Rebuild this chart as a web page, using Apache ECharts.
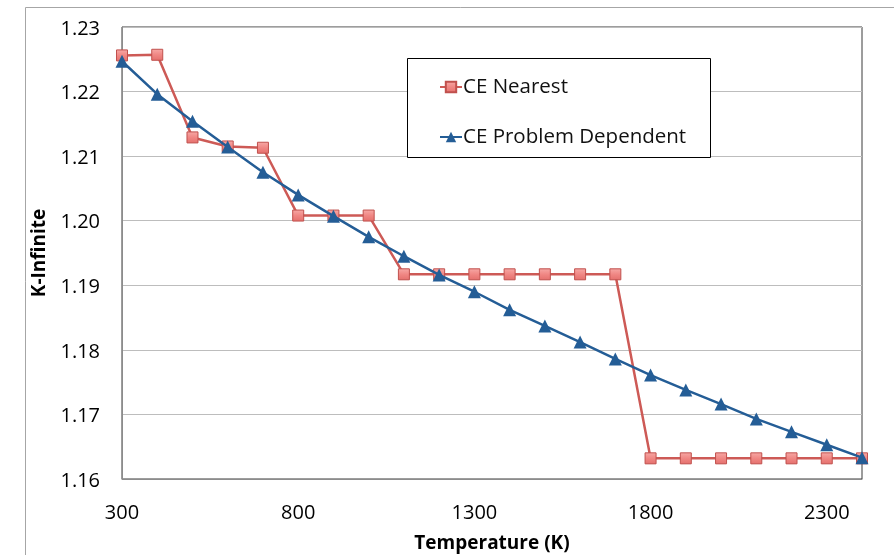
<!DOCTYPE html>
<html><head><meta charset="utf-8">
<script src="https://cdn.jsdelivr.net/npm/echarts@6/dist/echarts.min.js"></script>
<style>html,body{margin:0;padding:0;background:#fff}#c{width:894px;height:555px}</style>
</head><body><div id="c"></div>
<script>
const temperatures = [300,400,500,600,700,800,900,1000,1100,1200,1300,1400,1500,1600,1700,1800,1900,2000,2100,2200,2300,2400];
const ceNearest = [1.2256,1.2257,1.2129,1.2115,1.2113,1.2008,1.2008,1.2008,1.1917,1.1917,1.1917,1.1917,1.1917,1.1917,1.1917,1.1632,1.1632,1.1632,1.1632,1.1632,1.1632,1.1632];
const ceProblemDependent = [1.2247,1.2196,1.2154,1.2114,1.2075,1.2040,1.2007,1.1975,1.1945,1.1916,1.1890,1.1862,1.1837,1.1812,1.1786,1.1761,1.1738,1.1716,1.1693,1.1673,1.1653,1.1633];
const seriesNames = ['CE Nearest','CE Problem Dependent'];
const xTitle = 'Temperature (K)';
const yTitle = 'K-Infinite';

const font = '"Open Sans", "Liberation Sans", Arial, sans-serif';
const chart = echarts.init(document.getElementById('c'), null, {renderer:'canvas'});
const redFill = new echarts.graphic.LinearGradient(0,0,0,1,[{offset:0,color:'#f7aaa7'},{offset:0.5,color:'#f08784'},{offset:1,color:'#e46f6c'}]);
chart.setOption({
  animation:false,
  backgroundColor:'#fff',
  graphic:[
    {type:'rect', shape:{x:25.5,y:7.5,width:900,height:600}, style:{fill:'none',stroke:'#a6a6a6',lineWidth:1}, z:-10},
    {type:'rect', shape:{x:407.5,y:58.5,width:303,height:99}, style:{fill:'#fff',stroke:'#000',lineWidth:1}, z:50}
  ],
  grid:{left:122,top:27,right:32,bottom:76,containLabel:false,outerBoundsMode:'none',show:true,borderColor:'#3a3a3a',borderWidth:1,backgroundColor:'transparent'},
  legend:{
    orient:'vertical', left:434, top:70, itemWidth:22, itemHeight:13, itemGap:26, z:60,
    data:seriesNames,
    textStyle:{fontFamily:font,fontSize:20.5,color:'#111',lineHeight:24,padding:[0,0,0,-4]}
  },
  xAxis:{
    type:'value', min:300, max:2400, interval:500,
    name:xTitle, nameLocation:'middle', nameGap:55,
    nameTextStyle:{fontFamily:font,fontSize:19,fontWeight:'bold',color:'#000'},
    axisLine:{show:true,lineStyle:{color:'#8c8c8c',width:1}},
    axisTick:{show:false},
    axisLabel:{fontFamily:font,fontSize:20,color:'#000',margin:24,showMaxLabel:false,formatter:v=>String(v)},
    splitLine:{show:false}
  },
  yAxis:{
    type:'value', min:1.16, max:1.23, interval:0.01,
    name:yTitle, nameLocation:'middle', nameGap:71, nameRotate:90,
    nameTextStyle:{fontFamily:font,fontSize:19,fontWeight:'bold',color:'#000'},
    axisLine:{show:true,lineStyle:{color:'#8c8c8c',width:1}},
    axisTick:{show:false},
    axisLabel:{fontFamily:font,fontSize:20,color:'#000',margin:22,verticalAlign:'top',padding:[-8,0,0,0],formatter:v=>v.toFixed(2)},
    splitLine:{show:true,lineStyle:{color:'#bdbdbd',width:1}}
  },
  series:[
    {name:seriesNames[0], type:'line', data:temperatures.map((t,i)=>[t,ceNearest[i]]),
     symbol:'rect', symbolSize:11, showAllSymbol:true,
     lineStyle:{color:'#cd5a56',width:2.5},
     itemStyle:{color:redFill,borderColor:'#c0504d',borderWidth:1}, z:3},
    {name:seriesNames[1], type:'line', data:temperatures.map((t,i)=>[t,ceProblemDependent[i]]),
     symbol:'triangle', symbolSize:13, showAllSymbol:true,
     lineStyle:{color:'#245d96',width:2.5},
     itemStyle:{color:'#245d96',borderWidth:0}, z:4}
  ]
});
</script></body></html>
